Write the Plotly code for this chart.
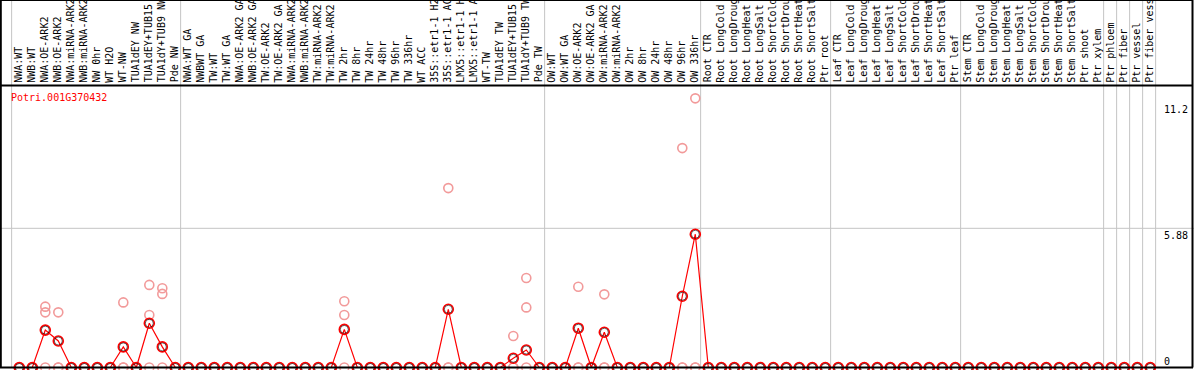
import plotly.graph_objects as go

# ---------------- data ----------------
gene_id = "Potri.001G370432"

categories = [
    # section 1
    "NWA:WT", "NWB:WT", "NWA:OE-ARK2", "NWB:OE-ARK2", "NWA:miRNA-ARK2", "NWB:miRNA-ARK2",
    "NW 0hr", "WT H2O", "WT-NW", "TUA1dEY NW", "TUA1dEY+TUB15 NW", "TUA1dY+TUB9 NW", "Pde NW",
    # section 2
    "NWA:WT GA", "NWBWT GA", "TW:WT", "TW:WT GA", "NWA:OE-ARK2 GA", "NWB:OE-ARK2 GA",
    "TW:OE-ARK2", "TW:OE-ARK2 GA", "NWA:miRNA-ARK2 GA", "NWB:miRNA-ARK2 GA", "TW:miRNA-ARK2",
    "TW:miRNA-ARK2 GA", "TW 2hr", "TW 8hr", "TW 24hr", "TW 48hr", "TW 96hr", "TW 336hr",
    "WT ACC", "35S::etr1-1 H2O", "35S::etr1-1 ACC", "LMX5::etr1-1 H2O", "LMX5::etr1-1 ACC",
    "WT-TW", "TUA1dEY TW", "TUA1dEY+TUB15 TW", "TUA1dY+TUB9 TW", "Pde TW",
    # section 3
    "OW:WT", "OW:WT GA", "OW:OE-ARK2", "OW:OE-ARK2 GA", "OW:miRNA-ARK2", "OW:miRNA-ARK2 GA",
    "OW 2hr", "OW 8hr", "OW 24hr", "OW 48hr", "OW 96hr", "OW 336hr",
    # root
    "Root CTR", "Root LongCold", "Root LongDrought", "Root LongHeat", "Root LongSalt",
    "Root ShortCold", "Root ShortDrought", "Root ShortHeat", "Root ShortSalt", "Ptr root",
    # leaf
    "Leaf CTR", "Leaf LongCold", "Leaf LongDrought", "Leaf LongHeat", "Leaf LongSalt",
    "Leaf ShortCold", "Leaf ShortDrought", "Leaf ShortHeat", "Leaf ShortSalt", "Ptr leaf",
    # stem / tissues
    "Stem CTR", "Stem LongCold", "Stem LongDrought", "Stem LongHeat", "Stem LongSalt",
    "Stem ShortCold", "Stem ShortDrought", "Stem ShortHeat", "Stem ShortSalt",
    "Ptr shoot", "Ptr xylem", "Ptr phloem", "Ptr fiber", "Ptr vessel", "Ptr fiber vessel",
]

# number of categories in each framed group (grey separators drawn after each group)
group_sizes = [13, 28, 12, 10, 10, 11, 1, 1, 1, 1]

# mean expression (red line)
mean_values = [
    0, 0, 1.58, 1.12, 0, 0, 0, 0, 0.87, 0, 1.87, 0.87, 0,
    0, 0, 0, 0, 0, 0, 0, 0, 0, 0, 0, 0, 1.61, 0, 0, 0, 0, 0, 0, 0, 2.46, 0, 0, 0, 0, 0.39, 0.74, 0,
    0, 0, 1.66, 0, 1.49, 0, 0, 0, 0, 0, 3.01, 5.63,
    0, 0, 0, 0, 0, 0, 0, 0, 0, 0,
    0, 0, 0, 0, 0, 0, 0, 0, 0, 0,
    0, 0, 0, 0, 0, 0, 0, 0, 0, 0, 0, 0, 0, 0, 0,
]

# individual replicates (pink circles)
rep_a = [
    0, 0, 2.57, 2.33, 0, 0, 0, 0, 2.75, 0, 3.49, 3.35, 0,
    0, 0, 0, 0, 0, 0, 0, 0, 0, 0, 0, 0, 2.80, 0, 0, 0, 0, 0, 0, 0, 7.58, 0, 0, 0, 0, 1.33, 3.78, 0,
    0, 0, 3.41, 0, 3.09, 0, 0, 0, 0, 0, 9.27, 11.37,
    0, 0, 0, 0, 0, 0, 0, 0, 0, 0,
    0, 0, 0, 0, 0, 0, 0, 0, 0, 0,
    0, 0, 0, 0, 0, 0, 0, 0, 0, 0, 0, 0, 0, 0, 0,
]
rep_b = [
    0, 0, 2.33, 0, 0, 0, 0, 0, 0, 0, 2.22, 3.11, 0,
    0, 0, 0, 0, 0, 0, 0, 0, 0, 0, 0, 0, 2.22, 0, 0, 0, 0, 0, 0, 0, 0, 0, 0, 0, 0, 0, 2.54, 0,
    0, 0, 0, 0, 0, 0, 0, 0, 0, 0, 0, 0,
    0, 0, 0, 0, 0, 0, 0, 0, 0, 0,
    0, 0, 0, 0, 0, 0, 0, 0, 0, 0,
    0, 0, 0, 0, 0, 0, 0, 0, 0, 0, 0, 0, 0, 0, 0,
]
rep_c = [
    0, 0, 0, 0, 0, 0, 0, 0, 0, 0, 0, 0, 0,
    0, 0, 0, 0, 0, 0, 0, 0, 0, 0, 0, 0, 0, 0, 0, 0, 0, 0, 0, 0, 0, 0, 0, 0, 0, 0, 0, 0,
    0, 0, 0, 0, 0, 0, 0, 0, 0, 0, 0, 0,
    0, 0, 0, 0, 0, 0, 0, 0, 0, 0,
    0, 0, 0, 0, 0, 0, 0, 0, 0, 0,
    0, 0, 0, 0, 0, 0, 0, 0, 0, 0, 0, 0, 0, 0, 0,
]

ytick_values = [0, 5.88, 11.2]
ytick_labels = ["0", "5.88", "11.2"]

# ---------------- layout geometry ----------------
W, H = 1194, 370
TOP = 85                      # top of the plot area (label band above)
FIRST_X_PX = 19.3             # pixel centre of first category
STEP_PX = 13.0                # pixel step between categories
ZERO_PX = 367.5               # pixel row of value 0
PX_PER_UNIT = 23.67

x_lo = -FIRST_X_PX / STEP_PX
x_hi = x_lo + W / STEP_PX
y_lo = -(H - ZERO_PX) / PX_PER_UNIT
y_hi = (ZERO_PX - TOP) / PX_PER_UNIT

def py(px):   # pixel row -> paper y
    return (H - px) / (H - TOP)

def pxx(px):  # pixel column -> paper x
    return px / W

MONO = "DejaVu Sans Mono"
idx = list(range(len(categories)))

fig = go.Figure()

pink = "#f29a9a"
for reps in (rep_c, rep_b, rep_a):
    fig.add_trace(go.Scatter(
        x=idx, y=reps, mode="markers", hoverinfo="skip",
        marker=dict(symbol="circle-open", size=9, color=pink, line=dict(width=1.6, color=pink)),
        cliponaxis=False, showlegend=False))

fig.add_trace(go.Scatter(
    x=idx, y=mean_values, mode="lines+markers", text=categories,
    line=dict(color="#ff0000", width=1.2),
    marker=dict(symbol="circle-open", size=10, color="#ff0000", line=dict(width=1.6, color="#ff0000")),
    cliponaxis=False, showlegend=False))
fig.add_trace(go.Scatter(
    x=idx, y=mean_values, mode="markers", hoverinfo="skip",
    marker=dict(symbol="circle-open", size=8, color="#000000", line=dict(width=0.6, color="rgba(0,0,0,0.5)")),
    cliponaxis=False, showlegend=False))

shapes = []
# grey group separators (extend through the label band)
pos = -1
bounds = [pos]
for g in group_sizes:
    pos += g
    bounds.append(pos)
for b in bounds:
    shapes.append(dict(type="line", xref="x", yref="paper", x0=b + 0.41, x1=b + 0.41,
                       y0=py(ZERO_PX), y1=py(0), line=dict(color="#c4c4c4", width=1), layer="below"))
# horizontal grid line at middle tick
shapes.append(dict(type="line", xref="paper", yref="y", x0=0, x1=1, y0=ytick_values[1], y1=ytick_values[1],
                   line=dict(color="#c4c4c4", width=1), layer="below"))
# black frame
blk = dict(color="#000000", width=2)
shapes.append(dict(type="line", xref="paper", yref="paper", x0=0, x1=pxx(1193), y0=py(TOP + 0.5), y1=py(TOP + 0.5), line=blk, layer="above"))
shapes.append(dict(type="line", xref="paper", yref="y", x0=0, x1=pxx(1193), y0=0, y1=0, line=blk, layer="above"))
shapes.append(dict(type="line", xref="paper", yref="paper", x0=pxx(0.8), x1=pxx(0.8), y0=py(ZERO_PX), y1=py(0), line=blk, layer="above"))
shapes.append(dict(type="line", xref="paper", yref="paper", x0=pxx(1192.5), x1=pxx(1192.5), y0=py(ZERO_PX), y1=py(0), line=blk, layer="above"))
shapes.append(dict(type="line", xref="paper", yref="paper", x0=0, x1=pxx(1193), y0=py(0.5), y1=py(0.5), line=dict(color="#000000", width=1), layer="above"))

annotations = []
for i, lab in enumerate(categories):
    annotations.append(dict(x=i, xref="x", y=py(TOP - 1.5), yref="paper", text=lab, textangle=-90,
                            xanchor="center", yanchor="bottom", xshift=-1, showarrow=False,
                            font=dict(family=MONO, size=10, color="#000000"), borderpad=0))
annotations.append(dict(x=pxx(9), xref="paper", y=py(97), yref="paper", text=gene_id,
                        xanchor="left", yanchor="middle", showarrow=False,
                        font=dict(family=MONO, size=10, color="#ff0000")))
for v, lab in zip(ytick_values, ytick_labels):
    annotations.append(dict(x=pxx(1162), xref="paper", y=v, yref="y", text=lab,
                            xanchor="left", yanchor=("bottom" if v == 0 else "top"),
                            yshift=(-1 if v == 0 else 0), showarrow=False,
                            font=dict(family=MONO, size=10, color="#000000")))

fig.update_layout(
    width=W, height=H, autosize=False,
    margin=dict(l=0, r=0, t=TOP, b=0, pad=0),
    paper_bgcolor="#ffffff", plot_bgcolor="#ffffff",
    xaxis=dict(range=[x_lo, x_hi], visible=False, fixedrange=True),
    yaxis=dict(range=[y_lo, y_hi], visible=False, fixedrange=True),
    shapes=shapes, annotations=annotations, showlegend=False,
)

fig.write_html("out.html", config={"displayModeBar": False},
               post_script="document.body.style.margin='0px';document.body.style.overflow='hidden';")
